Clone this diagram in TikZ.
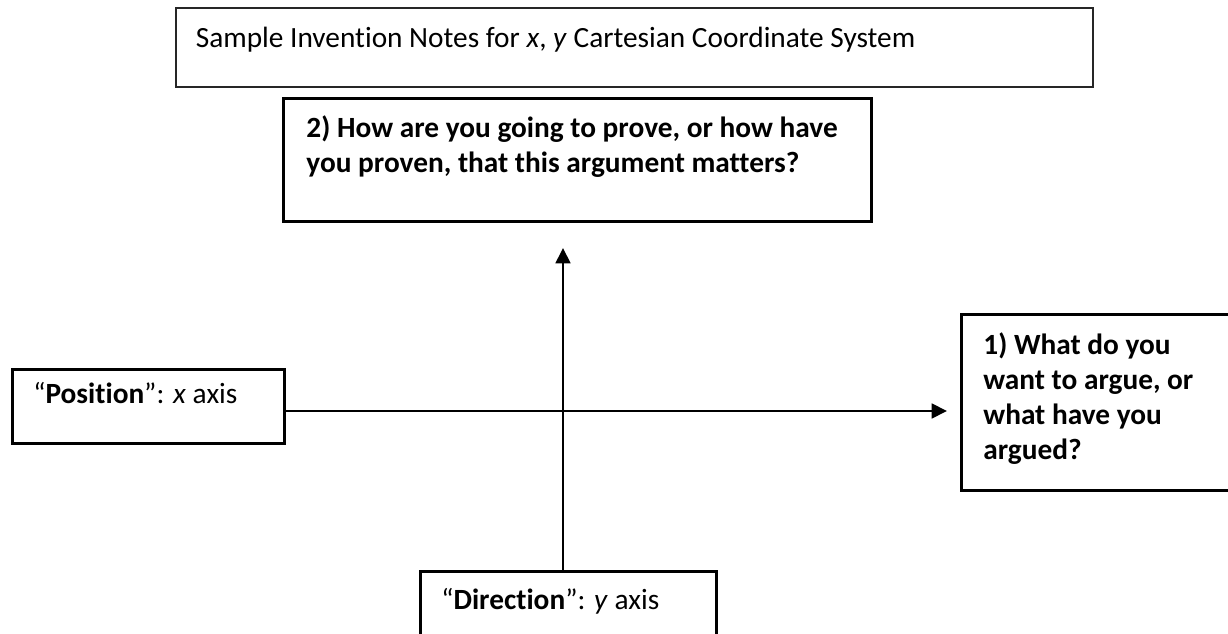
\documentclass[tikz,border=0pt]{standalone}
\usepackage{fontspec}
\setmainfont{Carlito}[Ligatures=NoCommon]
\usetikzlibrary{arrows.meta}

\begin{document}
\begin{tikzpicture}[x=0.75pt, y=-0.75pt,
  every node/.style={font=\fontsize{22pt}{26.25pt}\selectfont},
  notebox/.style={draw=black, line width=1.9pt, anchor=north west,
    align=flush left, inner ysep=0pt},
  axis/.style={line width=2pt, -{Triangle[length=11.5pt, width=11pt]}}
]
  % canvas
  \clip (0,0) rectangle (1228,634);
  \fill[white] (0,0) rectangle (1228,634);

  % heading box
  \node[notebox, line width=1.3pt, draw=black!85, inner xsep=15pt,
        text width=657.75pt, text height=30pt, text depth=29.25pt]
    (title) at (175,7)
    {\mbox{Sample Invention Notes for \textit{x}, \textit{y} Cartesian Coordinate System}};

  % question 2 (top of the y axis)
  \node[notebox, line width=2.2pt, inner xsep=17.25pt,
        text width=406.5pt, text height=29.25pt, text depth=63pt]
    (q2) at (282,97)
    {\bfseries \mbox{2) How are you going to prove, or how have}\\
     \mbox{you proven, that this argument matters?}};

  % x axis label
  \node[notebox, inner xsep=15.75pt,
        text width=172.5pt, text height=25.5pt, text depth=30pt]
    (pos) at (11,368)
    {\mbox{“\textbf{Position}”: \textit{x} axis}};

  % question 1 (end of the x axis)
  \node[notebox, line width=2.1pt, inner xsep=16.5pt,
        text width=177pt, text height=30pt, text depth=102pt]
    (q1) at (960,313)
    {\bfseries \mbox{1) What do you}\\ \mbox{want to argue, or}\\
     \mbox{what have you}\\ \mbox{argued?}};

  % y axis label
  \node[notebox, inner xsep=15.75pt,
        text width=190.5pt, text height=28.5pt, text depth=30pt]
    (dir) at (419,570)
    {\mbox{“\textbf{Direction}”: \textit{y} axis}};

  % axes
  \coordinate (ytip) at (563,248);
  \coordinate (xtip) at (947,411);
  \draw[axis] (dir.north -| ytip) -- (ytip);
  \draw[axis] (pos.east |- xtip) -- (xtip);
\end{tikzpicture}
\end{document}
